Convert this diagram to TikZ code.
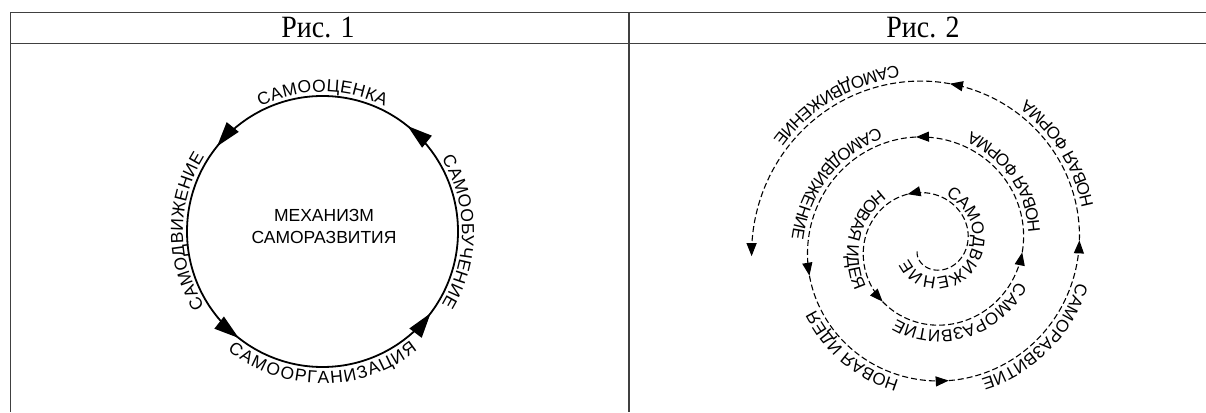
\documentclass[tikz,border=0pt]{standalone}
\usepackage{fontspec}
\newfontfamily\capserif[FakeStretch=0.9]{Liberation Serif}
\newfontfamily\figsans{Liberation Sans}
\newcommand{\capfont}{\capserif\fontsize{31}{36}\selectfont}
\newcommand{\ringfont}{\figsans\fontsize{17.5}{22}\selectfont}
\newcommand{\spirfont}{\figsans\fontsize{17}{20}\selectfont}
\usetikzlibrary{arrows.meta,calc,decorations.text,decorations.markings}

\begin{document}
\begin{tikzpicture}[x=1pt, y=1pt,
  rule/.style={draw=black!75, line width=1.2pt},
  ring/.style={line width=1.8pt},
  spir/.style={line width=1.1pt, dash pattern=on 6pt off 3pt, -{Triangle[length=13pt, width=10pt]}},
  ringlab/.style={decorate, decoration={text along path, text align=center, raise=4pt, text={|\ringfont|#1}}},
  ringlabin/.style={decorate, decoration={text along path, text align=center, raise=-16.5pt, text={|\ringfont|#1}}},
  spirlab/.style={decorate, decoration={text along path, text={|\spirfont|#1}}}]
	\useasboundingbox (0, 0) rectangle (1206, 412);
	% Table rules and captions:
	\draw[rule] (10.5, 399.7) -- (1206, 399.7);
	\draw[rule] (10.5, 368.5) -- (1206, 368.5);
	\draw[rule] (10.5, 399.7) -- (10.5, 0);
	\draw[rule] (629, 399.7) -- (629, 0);
	\node[font=\capfont, anchor=base] (cap1) at (318, 374.3) {Рис. 1};
	\node[font=\capfont, anchor=base] (cap2) at (923, 374.3) {Рис. 2};
	% Fig. 1: the ring
	\coordinate (c1) at (322.5, 180.5);
	\draw[ring, postaction={decorate}, decoration={markings,
	    mark=at position 0.142 with {\arrow{Triangle[length=25pt, width=15pt]}},
	    mark=at position 0.392 with {\arrow{Triangle[length=25pt, width=15pt]}},
	    mark=at position 0.644 with {\arrow{Triangle[length=25pt, width=15pt]}},
	    mark=at position 0.897 with {\arrow{Triangle[length=25pt, width=15pt]}}}]
	  (c1) circle[radius=135.5];
	\node[font=\ringfont, align=center] (mech) at (324, 186) {МЕХАНИЗМ\\САМОРАЗВИТИЯ};
	\path[ringlab=САМООЦЕНКА] ($(c1)+(150:135.5)$) arc[start angle=150, end angle=30, radius=135.5];
	\path[ringlab=САМООБУЧЕНИЕ] ($(c1)+(60:135.5)$) arc[start angle=60, end angle=-60, radius=135.5];
	\path[ringlab=САМОДВИЖЕНИЕ] ($(c1)+(240:135.5)$) arc[start angle=240, end angle=120, radius=135.5];
	\path[ringlabin=САМООРГАНИЗАЦИЯ] ($(c1)+(200:135.5)$) arc[start angle=200, end angle=340, radius=135.5];
	% Fig. 2: the spiral, printed upside down (q = quarter turns)
	\begin{scope}[shift={(929.5, 167)}]
	\coordinate (c2) at (0, 0);
	\draw[spir] plot[smooth, samples=70, domain=-0.7:2.26, variable=\q] ({-90+90*\q}:{23.7+14*\q});
	\draw[spir] plot[smooth, samples=40, domain=2.26:3.56, variable=\q] ({-90+90*\q}:{23.7+14*\q});
	\draw[spir] plot[smooth, samples=40, domain=3.56:4.95, variable=\q] ({-90+90*\q}:{23.7+14*\q});
	\draw[spir] plot[smooth, samples=40, domain=4.95:6.08, variable=\q] ({-90+90*\q}:{23.7+14*\q});
	\draw[spir] plot[smooth, samples=40, domain=6.08:7.16, variable=\q] ({-90+90*\q}:{23.7+14*\q});
	\draw[spir] plot[smooth, samples=40, domain=7.16:8.09, variable=\q] ({-90+90*\q}:{23.7+14*\q});
	\draw[spir] plot[smooth, samples=40, domain=8.09:9.02, variable=\q] ({-90+90*\q}:{23.7+14*\q});
	\draw[spir] plot[smooth, samples=40, domain=9.02:9.92, variable=\q] ({-90+90*\q}:{23.7+14*\q});
	\draw[spir] plot[smooth, samples=40, domain=9.92:11.04, variable=\q] ({-90+90*\q}:{23.7+14*\q});
	% labels read against the turn (tops outward)
	\path[spirlab=САМОДВИЖЕНИЕ] plot[samples=50, domain=0:1, variable=\t] ({-90+90*(1.8-2.75*\t)}:{31.8+11.15*(1.8-2.75*\t)});
	\path[spirlab=САМОРАЗВИТИЕ] plot[samples=40, domain=0:1, variable=\t] ({-90+90*(4.75-1.45*\t)}:{28.7+14*(4.75-1.45*\t)});
	\path[spirlab=НОВАЯ ИДЕЯ] plot[samples=40, domain=0:1, variable=\t] ({-90+90*(7.86-0.86*\t)}:{28.7+14*(7.86-0.86*\t)});
	\path[spirlab=САМОРАЗВИТИЕ] plot[samples=40, domain=0:1, variable=\t] ({-90+90*(8.84-0.84*\t)}:{28.7+14*(8.84-0.84*\t)});
	% labels read with the turn (tops inward)
	\path[spirlab=НОВАЯ ИДЕЯ] plot[samples=40, domain=2.47:3.8, variable=\q] ({-90+90*\q}:{40.2+14*\q});
	\path[spirlab=НОВАЯ ФОРМА] plot[samples=40, domain=5.075:6.2, variable=\q] ({-90+90*\q}:{40.2+14*\q});
	\path[spirlab=САМОДВИЖЕНИЕ] plot[samples=40, domain=6.26:7.3, variable=\q] ({-90+90*\q}:{40.2+14*\q});
	\path[spirlab=НОВАЯ ФОРМА] plot[samples=40, domain=9.15:9.9, variable=\q] ({-90+90*\q}:{40.2+14*\q});
	\path[spirlab=САМОДВИЖЕНИЕ] plot[samples=40, domain=10.11:10.9, variable=\q] ({-90+90*\q}:{40.2+14*\q});
	\end{scope}
\end{tikzpicture}
\end{document}
